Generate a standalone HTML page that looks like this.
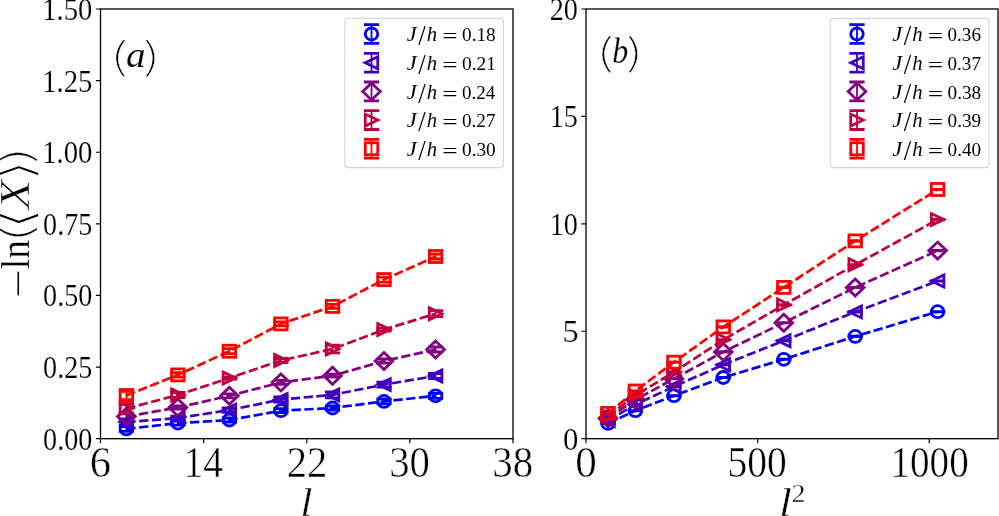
<!DOCTYPE html>
<html lang="en"><head><meta charset="utf-8"><title>-ln(X) versus l and l squared</title>
<style>html,body{margin:0;padding:0;background:#fff}svg{display:block}</style></head>
<body>
<svg width="999" height="516" viewBox="0 0 999 516">
<rect width="999" height="516" fill="#fff"/>
<clipPath id="cl"><rect x="100.5" y="9.0" width="412.5" height="429.7"/></clipPath>
<clipPath id="cr"><rect x="586.0" y="9.0" width="412.0" height="429.7"/></clipPath>
<g clip-path="url(#cl)">
<path d="M126.40 426.50V431.30" stroke="#0000ff" stroke-width="1.8" fill="none"/><path d="M118.80 426.50H134.00M118.80 431.30H134.00" stroke="#0000ff" stroke-width="2.8" fill="none"/>
<path d="M177.90 421.10V425.10" stroke="#0000ff" stroke-width="1.8" fill="none"/><path d="M170.30 421.10H185.50M170.30 425.10H185.50" stroke="#0000ff" stroke-width="2.8" fill="none"/>
<path d="M229.40 418.00V422.00" stroke="#0000ff" stroke-width="1.8" fill="none"/><path d="M221.80 418.00H237.00M221.80 422.00H237.00" stroke="#0000ff" stroke-width="2.8" fill="none"/>
<path d="M280.90 408.70V412.70" stroke="#0000ff" stroke-width="1.8" fill="none"/><path d="M273.30 408.70H288.50M273.30 412.70H288.50" stroke="#0000ff" stroke-width="2.8" fill="none"/>
<path d="M332.50 406.00V410.00" stroke="#0000ff" stroke-width="1.8" fill="none"/><path d="M324.90 406.00H340.10M324.90 410.00H340.10" stroke="#0000ff" stroke-width="2.8" fill="none"/>
<path d="M384.00 398.90V403.90" stroke="#0000ff" stroke-width="1.8" fill="none"/><path d="M376.40 398.90H391.60M376.40 403.90H391.60" stroke="#0000ff" stroke-width="2.8" fill="none"/>
<path d="M435.60 393.30V398.30" stroke="#0000ff" stroke-width="1.8" fill="none"/><path d="M428.00 393.30H443.20M428.00 398.30H443.20" stroke="#0000ff" stroke-width="2.8" fill="none"/>
<path d="M126.40 419.00V425.00" stroke="#4000bf" stroke-width="1.8" fill="none"/><path d="M118.80 419.00H134.00M118.80 425.00H134.00" stroke="#4000bf" stroke-width="2.8" fill="none"/>
<path d="M177.90 416.10V420.10" stroke="#4000bf" stroke-width="1.8" fill="none"/><path d="M170.30 416.10H185.50M170.30 420.10H185.50" stroke="#4000bf" stroke-width="2.8" fill="none"/>
<path d="M229.40 407.90V412.30" stroke="#4000bf" stroke-width="1.8" fill="none"/><path d="M221.80 407.90H237.00M221.80 412.30H237.00" stroke="#4000bf" stroke-width="2.8" fill="none"/>
<path d="M280.90 397.00V402.00" stroke="#4000bf" stroke-width="1.8" fill="none"/><path d="M273.30 397.00H288.50M273.30 402.00H288.50" stroke="#4000bf" stroke-width="2.8" fill="none"/>
<path d="M332.50 391.90V397.90" stroke="#4000bf" stroke-width="1.8" fill="none"/><path d="M324.90 391.90H340.10M324.90 397.90H340.10" stroke="#4000bf" stroke-width="2.8" fill="none"/>
<path d="M384.00 382.10V387.10" stroke="#4000bf" stroke-width="1.8" fill="none"/><path d="M376.40 382.10H391.60M376.40 387.10H391.60" stroke="#4000bf" stroke-width="2.8" fill="none"/>
<path d="M435.60 373.50V378.50" stroke="#4000bf" stroke-width="1.8" fill="none"/><path d="M428.00 373.50H443.20M428.00 378.50H443.20" stroke="#4000bf" stroke-width="2.8" fill="none"/>
<path d="M126.40 413.60V419.60" stroke="#800080" stroke-width="1.8" fill="none"/><path d="M118.80 413.60H134.00M118.80 419.60H134.00" stroke="#800080" stroke-width="2.8" fill="none"/>
<path d="M177.90 406.00V409.00" stroke="#800080" stroke-width="1.8" fill="none"/><path d="M170.30 406.00H185.50M170.30 409.00H185.50" stroke="#800080" stroke-width="2.8" fill="none"/>
<path d="M229.40 393.80V397.80" stroke="#800080" stroke-width="1.8" fill="none"/><path d="M221.80 393.80H237.00M221.80 397.80H237.00" stroke="#800080" stroke-width="2.8" fill="none"/>
<path d="M280.90 380.40V384.40" stroke="#800080" stroke-width="1.8" fill="none"/><path d="M273.30 380.40H288.50M273.30 384.40H288.50" stroke="#800080" stroke-width="2.8" fill="none"/>
<path d="M332.50 374.20V377.20" stroke="#800080" stroke-width="1.8" fill="none"/><path d="M324.90 374.20H340.10M324.90 377.20H340.10" stroke="#800080" stroke-width="2.8" fill="none"/>
<path d="M384.00 359.00V363.00" stroke="#800080" stroke-width="1.8" fill="none"/><path d="M376.40 359.00H391.60M376.40 363.00H391.60" stroke="#800080" stroke-width="2.8" fill="none"/>
<path d="M435.60 347.00V352.00" stroke="#800080" stroke-width="1.8" fill="none"/><path d="M428.00 347.00H443.20M428.00 352.00H443.20" stroke="#800080" stroke-width="2.8" fill="none"/>
<path d="M126.40 404.30V412.90" stroke="#bf0040" stroke-width="1.8" fill="none"/><path d="M118.80 404.30H134.00M118.80 412.90H134.00" stroke="#bf0040" stroke-width="2.8" fill="none"/>
<path d="M177.90 392.50V397.50" stroke="#bf0040" stroke-width="1.8" fill="none"/><path d="M170.30 392.50H185.50M170.30 397.50H185.50" stroke="#bf0040" stroke-width="2.8" fill="none"/>
<path d="M229.40 377.00V379.00" stroke="#bf0040" stroke-width="1.8" fill="none"/><path d="M221.80 377.00H237.00M221.80 379.00H237.00" stroke="#bf0040" stroke-width="2.8" fill="none"/>
<path d="M280.90 358.50V362.50" stroke="#bf0040" stroke-width="1.8" fill="none"/><path d="M273.30 358.50H288.50M273.30 362.50H288.50" stroke="#bf0040" stroke-width="2.8" fill="none"/>
<path d="M332.50 345.10V352.90" stroke="#bf0040" stroke-width="1.8" fill="none"/><path d="M324.90 345.10H340.10M324.90 352.90H340.10" stroke="#bf0040" stroke-width="2.8" fill="none"/>
<path d="M384.00 328.10V331.10" stroke="#bf0040" stroke-width="1.8" fill="none"/><path d="M376.40 328.10H391.60M376.40 331.10H391.60" stroke="#bf0040" stroke-width="2.8" fill="none"/>
<path d="M435.60 310.70V316.70" stroke="#bf0040" stroke-width="1.8" fill="none"/><path d="M428.00 310.70H443.20M428.00 316.70H443.20" stroke="#bf0040" stroke-width="2.8" fill="none"/>
<path d="M126.40 391.30V399.70" stroke="#ff0000" stroke-width="1.8" fill="none"/><path d="M118.80 391.30H134.00M118.80 399.70H134.00" stroke="#ff0000" stroke-width="2.8" fill="none"/>
<path d="M177.90 372.70V377.10" stroke="#ff0000" stroke-width="1.8" fill="none"/><path d="M170.30 372.70H185.50M170.30 377.10H185.50" stroke="#ff0000" stroke-width="2.8" fill="none"/>
<path d="M229.40 348.70V353.70" stroke="#ff0000" stroke-width="1.8" fill="none"/><path d="M221.80 348.70H237.00M221.80 353.70H237.00" stroke="#ff0000" stroke-width="2.8" fill="none"/>
<path d="M280.90 321.90V325.90" stroke="#ff0000" stroke-width="1.8" fill="none"/><path d="M273.30 321.90H288.50M273.30 325.90H288.50" stroke="#ff0000" stroke-width="2.8" fill="none"/>
<path d="M332.50 304.40V308.40" stroke="#ff0000" stroke-width="1.8" fill="none"/><path d="M324.90 304.40H340.10M324.90 308.40H340.10" stroke="#ff0000" stroke-width="2.8" fill="none"/>
<path d="M384.00 277.10V282.10" stroke="#ff0000" stroke-width="1.8" fill="none"/><path d="M376.40 277.10H391.60M376.40 282.10H391.60" stroke="#ff0000" stroke-width="2.8" fill="none"/>
<path d="M435.60 254.00V259.00" stroke="#ff0000" stroke-width="1.8" fill="none"/><path d="M428.00 254.00H443.20M428.00 259.00H443.20" stroke="#ff0000" stroke-width="2.8" fill="none"/>
<polyline points="126.40,428.90 177.90,423.10 229.40,420.00 280.90,410.70 332.50,408.00 384.00,401.40 435.60,395.80" fill="none" stroke="#0000ff" stroke-width="2.7" stroke-dasharray="9.3 3.5"/>
<ellipse cx="126.40" cy="428.90" rx="6.25" ry="6.00" fill="none" stroke="#0000ff" stroke-width="2.8" stroke-linejoin="miter"/>
<ellipse cx="177.90" cy="423.10" rx="6.25" ry="6.00" fill="none" stroke="#0000ff" stroke-width="2.8" stroke-linejoin="miter"/>
<ellipse cx="229.40" cy="420.00" rx="6.25" ry="6.00" fill="none" stroke="#0000ff" stroke-width="2.8" stroke-linejoin="miter"/>
<ellipse cx="280.90" cy="410.70" rx="6.25" ry="6.00" fill="none" stroke="#0000ff" stroke-width="2.8" stroke-linejoin="miter"/>
<ellipse cx="332.50" cy="408.00" rx="6.25" ry="6.00" fill="none" stroke="#0000ff" stroke-width="2.8" stroke-linejoin="miter"/>
<ellipse cx="384.00" cy="401.40" rx="6.25" ry="6.00" fill="none" stroke="#0000ff" stroke-width="2.8" stroke-linejoin="miter"/>
<ellipse cx="435.60" cy="395.80" rx="6.25" ry="6.00" fill="none" stroke="#0000ff" stroke-width="2.8" stroke-linejoin="miter"/>
<polyline points="126.40,422.00 177.90,418.10 229.40,410.10 280.90,399.50 332.50,394.90 384.00,384.60 435.60,376.00" fill="none" stroke="#4000bf" stroke-width="2.7" stroke-dasharray="9.3 3.5"/>
<path d="M120.15 422.00L132.65 416.00L132.65 428.00Z" fill="none" stroke="#4000bf" stroke-width="2.8" stroke-linejoin="miter"/>
<path d="M171.65 418.10L184.15 412.10L184.15 424.10Z" fill="none" stroke="#4000bf" stroke-width="2.8" stroke-linejoin="miter"/>
<path d="M223.15 410.10L235.65 404.10L235.65 416.10Z" fill="none" stroke="#4000bf" stroke-width="2.8" stroke-linejoin="miter"/>
<path d="M274.65 399.50L287.15 393.50L287.15 405.50Z" fill="none" stroke="#4000bf" stroke-width="2.8" stroke-linejoin="miter"/>
<path d="M326.25 394.90L338.75 388.90L338.75 400.90Z" fill="none" stroke="#4000bf" stroke-width="2.8" stroke-linejoin="miter"/>
<path d="M377.75 384.60L390.25 378.60L390.25 390.60Z" fill="none" stroke="#4000bf" stroke-width="2.8" stroke-linejoin="miter"/>
<path d="M429.35 376.00L441.85 370.00L441.85 382.00Z" fill="none" stroke="#4000bf" stroke-width="2.8" stroke-linejoin="miter"/>
<polyline points="126.40,416.60 177.90,407.50 229.40,395.80 280.90,382.40 332.50,375.70 384.00,361.00 435.60,349.50" fill="none" stroke="#800080" stroke-width="2.7" stroke-dasharray="9.3 3.5"/>
<path d="M126.40 408.11L135.24 416.60L126.40 425.09L117.56 416.60Z" fill="none" stroke="#800080" stroke-width="2.8" stroke-linejoin="miter"/>
<path d="M177.90 399.01L186.74 407.50L177.90 415.99L169.06 407.50Z" fill="none" stroke="#800080" stroke-width="2.8" stroke-linejoin="miter"/>
<path d="M229.40 387.31L238.24 395.80L229.40 404.29L220.56 395.80Z" fill="none" stroke="#800080" stroke-width="2.8" stroke-linejoin="miter"/>
<path d="M280.90 373.91L289.74 382.40L280.90 390.89L272.06 382.40Z" fill="none" stroke="#800080" stroke-width="2.8" stroke-linejoin="miter"/>
<path d="M332.50 367.21L341.34 375.70L332.50 384.19L323.66 375.70Z" fill="none" stroke="#800080" stroke-width="2.8" stroke-linejoin="miter"/>
<path d="M384.00 352.51L392.84 361.00L384.00 369.49L375.16 361.00Z" fill="none" stroke="#800080" stroke-width="2.8" stroke-linejoin="miter"/>
<path d="M435.60 341.01L444.44 349.50L435.60 357.99L426.76 349.50Z" fill="none" stroke="#800080" stroke-width="2.8" stroke-linejoin="miter"/>
<polyline points="126.40,408.60 177.90,395.00 229.40,378.00 280.90,360.50 332.50,349.00 384.00,329.60 435.60,313.70" fill="none" stroke="#bf0040" stroke-width="2.7" stroke-dasharray="9.3 3.5"/>
<path d="M132.65 408.60L120.15 402.60L120.15 414.60Z" fill="none" stroke="#bf0040" stroke-width="2.8" stroke-linejoin="miter"/>
<path d="M184.15 395.00L171.65 389.00L171.65 401.00Z" fill="none" stroke="#bf0040" stroke-width="2.8" stroke-linejoin="miter"/>
<path d="M235.65 378.00L223.15 372.00L223.15 384.00Z" fill="none" stroke="#bf0040" stroke-width="2.8" stroke-linejoin="miter"/>
<path d="M287.15 360.50L274.65 354.50L274.65 366.50Z" fill="none" stroke="#bf0040" stroke-width="2.8" stroke-linejoin="miter"/>
<path d="M338.75 349.00L326.25 343.00L326.25 355.00Z" fill="none" stroke="#bf0040" stroke-width="2.8" stroke-linejoin="miter"/>
<path d="M390.25 329.60L377.75 323.60L377.75 335.60Z" fill="none" stroke="#bf0040" stroke-width="2.8" stroke-linejoin="miter"/>
<path d="M441.85 313.70L429.35 307.70L429.35 319.70Z" fill="none" stroke="#bf0040" stroke-width="2.8" stroke-linejoin="miter"/>
<polyline points="126.40,395.50 177.90,374.90 229.40,351.20 280.90,323.90 332.50,306.40 384.00,279.60 435.60,256.50" fill="none" stroke="#ff0000" stroke-width="2.7" stroke-dasharray="9.3 3.5"/>
<rect x="120.15" y="389.50" width="12.5" height="12.00" fill="none" stroke="#ff0000" stroke-width="2.8" stroke-linejoin="miter"/>
<rect x="171.65" y="368.90" width="12.5" height="12.00" fill="none" stroke="#ff0000" stroke-width="2.8" stroke-linejoin="miter"/>
<rect x="223.15" y="345.20" width="12.5" height="12.00" fill="none" stroke="#ff0000" stroke-width="2.8" stroke-linejoin="miter"/>
<rect x="274.65" y="317.90" width="12.5" height="12.00" fill="none" stroke="#ff0000" stroke-width="2.8" stroke-linejoin="miter"/>
<rect x="326.25" y="300.40" width="12.5" height="12.00" fill="none" stroke="#ff0000" stroke-width="2.8" stroke-linejoin="miter"/>
<rect x="377.75" y="273.60" width="12.5" height="12.00" fill="none" stroke="#ff0000" stroke-width="2.8" stroke-linejoin="miter"/>
<rect x="429.35" y="250.50" width="12.5" height="12.00" fill="none" stroke="#ff0000" stroke-width="2.8" stroke-linejoin="miter"/>
</g>
<g clip-path="url(#cr)">
<path d="M608.00 423.25V423.55" stroke="#0000ff" stroke-width="1.8" fill="none"/><path d="M600.40 423.25H615.60M600.40 423.55H615.60" stroke="#0000ff" stroke-width="2.8" fill="none"/>
<path d="M635.40 410.55V410.85" stroke="#0000ff" stroke-width="1.8" fill="none"/><path d="M627.80 410.55H643.00M627.80 410.85H643.00" stroke="#0000ff" stroke-width="2.8" fill="none"/>
<path d="M673.90 395.55V395.85" stroke="#0000ff" stroke-width="1.8" fill="none"/><path d="M666.30 395.55H681.50M666.30 395.85H681.50" stroke="#0000ff" stroke-width="2.8" fill="none"/>
<path d="M723.30 377.35V377.65" stroke="#0000ff" stroke-width="1.8" fill="none"/><path d="M715.70 377.35H730.90M715.70 377.65H730.90" stroke="#0000ff" stroke-width="2.8" fill="none"/>
<path d="M783.80 359.15V359.45" stroke="#0000ff" stroke-width="1.8" fill="none"/><path d="M776.20 359.15H791.40M776.20 359.45H791.40" stroke="#0000ff" stroke-width="2.8" fill="none"/>
<path d="M855.20 336.25V336.55" stroke="#0000ff" stroke-width="1.8" fill="none"/><path d="M847.60 336.25H862.80M847.60 336.55H862.80" stroke="#0000ff" stroke-width="2.8" fill="none"/>
<path d="M937.60 311.55V311.85" stroke="#0000ff" stroke-width="1.8" fill="none"/><path d="M930.00 311.55H945.20M930.00 311.85H945.20" stroke="#0000ff" stroke-width="2.8" fill="none"/>
<path d="M608.00 420.35V420.65" stroke="#4000bf" stroke-width="1.8" fill="none"/><path d="M600.40 420.35H615.60M600.40 420.65H615.60" stroke="#4000bf" stroke-width="2.8" fill="none"/>
<path d="M635.40 404.35V404.65" stroke="#4000bf" stroke-width="1.8" fill="none"/><path d="M627.80 404.35H643.00M627.80 404.65H643.00" stroke="#4000bf" stroke-width="2.8" fill="none"/>
<path d="M673.90 386.45V386.75" stroke="#4000bf" stroke-width="1.8" fill="none"/><path d="M666.30 386.45H681.50M666.30 386.75H681.50" stroke="#4000bf" stroke-width="2.8" fill="none"/>
<path d="M723.30 364.55V364.85" stroke="#4000bf" stroke-width="1.8" fill="none"/><path d="M715.70 364.55H730.90M715.70 364.85H730.90" stroke="#4000bf" stroke-width="2.8" fill="none"/>
<path d="M783.80 340.55V340.85" stroke="#4000bf" stroke-width="1.8" fill="none"/><path d="M776.20 340.55H791.40M776.20 340.85H791.40" stroke="#4000bf" stroke-width="2.8" fill="none"/>
<path d="M855.20 311.75V312.05" stroke="#4000bf" stroke-width="1.8" fill="none"/><path d="M847.60 311.75H862.80M847.60 312.05H862.80" stroke="#4000bf" stroke-width="2.8" fill="none"/>
<path d="M937.60 280.85V281.15" stroke="#4000bf" stroke-width="1.8" fill="none"/><path d="M930.00 280.85H945.20M930.00 281.15H945.20" stroke="#4000bf" stroke-width="2.8" fill="none"/>
<path d="M608.00 418.15V418.45" stroke="#800080" stroke-width="1.8" fill="none"/><path d="M600.40 418.15H615.60M600.40 418.45H615.60" stroke="#800080" stroke-width="2.8" fill="none"/>
<path d="M635.40 399.55V399.85" stroke="#800080" stroke-width="1.8" fill="none"/><path d="M627.80 399.55H643.00M627.80 399.85H643.00" stroke="#800080" stroke-width="2.8" fill="none"/>
<path d="M673.90 378.65V378.95" stroke="#800080" stroke-width="1.8" fill="none"/><path d="M666.30 378.65H681.50M666.30 378.95H681.50" stroke="#800080" stroke-width="2.8" fill="none"/>
<path d="M723.30 351.75V352.05" stroke="#800080" stroke-width="1.8" fill="none"/><path d="M715.70 351.75H730.90M715.70 352.05H730.90" stroke="#800080" stroke-width="2.8" fill="none"/>
<path d="M783.80 322.55V322.85" stroke="#800080" stroke-width="1.8" fill="none"/><path d="M776.20 322.55H791.40M776.20 322.85H791.40" stroke="#800080" stroke-width="2.8" fill="none"/>
<path d="M855.20 287.35V287.65" stroke="#800080" stroke-width="1.8" fill="none"/><path d="M847.60 287.35H862.80M847.60 287.65H862.80" stroke="#800080" stroke-width="2.8" fill="none"/>
<path d="M937.60 250.45V250.75" stroke="#800080" stroke-width="1.8" fill="none"/><path d="M930.00 250.45H945.20M930.00 250.75H945.20" stroke="#800080" stroke-width="2.8" fill="none"/>
<path d="M608.00 415.85V416.15" stroke="#bf0040" stroke-width="1.8" fill="none"/><path d="M600.40 415.85H615.60M600.40 416.15H615.60" stroke="#bf0040" stroke-width="2.8" fill="none"/>
<path d="M635.40 395.35V395.65" stroke="#bf0040" stroke-width="1.8" fill="none"/><path d="M627.80 395.35H643.00M627.80 395.65H643.00" stroke="#bf0040" stroke-width="2.8" fill="none"/>
<path d="M673.90 371.85V372.15" stroke="#bf0040" stroke-width="1.8" fill="none"/><path d="M666.30 371.85H681.50M666.30 372.15H681.50" stroke="#bf0040" stroke-width="2.8" fill="none"/>
<path d="M723.30 339.65V339.95" stroke="#bf0040" stroke-width="1.8" fill="none"/><path d="M715.70 339.65H730.90M715.70 339.95H730.90" stroke="#bf0040" stroke-width="2.8" fill="none"/>
<path d="M783.80 304.75V305.05" stroke="#bf0040" stroke-width="1.8" fill="none"/><path d="M776.20 304.75H791.40M776.20 305.05H791.40" stroke="#bf0040" stroke-width="2.8" fill="none"/>
<path d="M855.20 264.65V264.95" stroke="#bf0040" stroke-width="1.8" fill="none"/><path d="M847.60 264.65H862.80M847.60 264.95H862.80" stroke="#bf0040" stroke-width="2.8" fill="none"/>
<path d="M937.60 219.45V219.75" stroke="#bf0040" stroke-width="1.8" fill="none"/><path d="M930.00 219.45H945.20M930.00 219.75H945.20" stroke="#bf0040" stroke-width="2.8" fill="none"/>
<path d="M608.00 413.25V413.55" stroke="#ff0000" stroke-width="1.8" fill="none"/><path d="M600.40 413.25H615.60M600.40 413.55H615.60" stroke="#ff0000" stroke-width="2.8" fill="none"/>
<path d="M635.40 390.85V391.15" stroke="#ff0000" stroke-width="1.8" fill="none"/><path d="M627.80 390.85H643.00M627.80 391.15H643.00" stroke="#ff0000" stroke-width="2.8" fill="none"/>
<path d="M673.90 362.05V362.35" stroke="#ff0000" stroke-width="1.8" fill="none"/><path d="M666.30 362.05H681.50M666.30 362.35H681.50" stroke="#ff0000" stroke-width="2.8" fill="none"/>
<path d="M723.30 326.75V327.05" stroke="#ff0000" stroke-width="1.8" fill="none"/><path d="M715.70 326.75H730.90M715.70 327.05H730.90" stroke="#ff0000" stroke-width="2.8" fill="none"/>
<path d="M783.80 287.25V287.55" stroke="#ff0000" stroke-width="1.8" fill="none"/><path d="M776.20 287.25H791.40M776.20 287.55H791.40" stroke="#ff0000" stroke-width="2.8" fill="none"/>
<path d="M855.20 240.75V241.05" stroke="#ff0000" stroke-width="1.8" fill="none"/><path d="M847.60 240.75H862.80M847.60 241.05H862.80" stroke="#ff0000" stroke-width="2.8" fill="none"/>
<path d="M937.60 189.35V189.65" stroke="#ff0000" stroke-width="1.8" fill="none"/><path d="M930.00 189.35H945.20M930.00 189.65H945.20" stroke="#ff0000" stroke-width="2.8" fill="none"/>
<polyline points="608.00,423.40 635.40,410.70 673.90,395.70 723.30,377.50 783.80,359.30 855.20,336.40 937.60,311.70" fill="none" stroke="#0000ff" stroke-width="2.7" stroke-dasharray="9.3 3.5"/>
<ellipse cx="608.00" cy="423.40" rx="6.25" ry="6.00" fill="none" stroke="#0000ff" stroke-width="2.8" stroke-linejoin="miter"/>
<ellipse cx="635.40" cy="410.70" rx="6.25" ry="6.00" fill="none" stroke="#0000ff" stroke-width="2.8" stroke-linejoin="miter"/>
<ellipse cx="673.90" cy="395.70" rx="6.25" ry="6.00" fill="none" stroke="#0000ff" stroke-width="2.8" stroke-linejoin="miter"/>
<ellipse cx="723.30" cy="377.50" rx="6.25" ry="6.00" fill="none" stroke="#0000ff" stroke-width="2.8" stroke-linejoin="miter"/>
<ellipse cx="783.80" cy="359.30" rx="6.25" ry="6.00" fill="none" stroke="#0000ff" stroke-width="2.8" stroke-linejoin="miter"/>
<ellipse cx="855.20" cy="336.40" rx="6.25" ry="6.00" fill="none" stroke="#0000ff" stroke-width="2.8" stroke-linejoin="miter"/>
<ellipse cx="937.60" cy="311.70" rx="6.25" ry="6.00" fill="none" stroke="#0000ff" stroke-width="2.8" stroke-linejoin="miter"/>
<polyline points="608.00,420.50 635.40,404.50 673.90,386.60 723.30,364.70 783.80,340.70 855.20,311.90 937.60,281.00" fill="none" stroke="#4000bf" stroke-width="2.7" stroke-dasharray="9.3 3.5"/>
<path d="M601.75 420.50L614.25 414.50L614.25 426.50Z" fill="none" stroke="#4000bf" stroke-width="2.8" stroke-linejoin="miter"/>
<path d="M629.15 404.50L641.65 398.50L641.65 410.50Z" fill="none" stroke="#4000bf" stroke-width="2.8" stroke-linejoin="miter"/>
<path d="M667.65 386.60L680.15 380.60L680.15 392.60Z" fill="none" stroke="#4000bf" stroke-width="2.8" stroke-linejoin="miter"/>
<path d="M717.05 364.70L729.55 358.70L729.55 370.70Z" fill="none" stroke="#4000bf" stroke-width="2.8" stroke-linejoin="miter"/>
<path d="M777.55 340.70L790.05 334.70L790.05 346.70Z" fill="none" stroke="#4000bf" stroke-width="2.8" stroke-linejoin="miter"/>
<path d="M848.95 311.90L861.45 305.90L861.45 317.90Z" fill="none" stroke="#4000bf" stroke-width="2.8" stroke-linejoin="miter"/>
<path d="M931.35 281.00L943.85 275.00L943.85 287.00Z" fill="none" stroke="#4000bf" stroke-width="2.8" stroke-linejoin="miter"/>
<polyline points="608.00,418.30 635.40,399.70 673.90,378.80 723.30,351.90 783.80,322.70 855.20,287.50 937.60,250.60" fill="none" stroke="#800080" stroke-width="2.7" stroke-dasharray="9.3 3.5"/>
<path d="M608.00 409.81L616.84 418.30L608.00 426.79L599.16 418.30Z" fill="none" stroke="#800080" stroke-width="2.8" stroke-linejoin="miter"/>
<path d="M635.40 391.21L644.24 399.70L635.40 408.19L626.56 399.70Z" fill="none" stroke="#800080" stroke-width="2.8" stroke-linejoin="miter"/>
<path d="M673.90 370.31L682.74 378.80L673.90 387.29L665.06 378.80Z" fill="none" stroke="#800080" stroke-width="2.8" stroke-linejoin="miter"/>
<path d="M723.30 343.41L732.14 351.90L723.30 360.39L714.46 351.90Z" fill="none" stroke="#800080" stroke-width="2.8" stroke-linejoin="miter"/>
<path d="M783.80 314.21L792.64 322.70L783.80 331.19L774.96 322.70Z" fill="none" stroke="#800080" stroke-width="2.8" stroke-linejoin="miter"/>
<path d="M855.20 279.01L864.04 287.50L855.20 295.99L846.36 287.50Z" fill="none" stroke="#800080" stroke-width="2.8" stroke-linejoin="miter"/>
<path d="M937.60 242.11L946.44 250.60L937.60 259.09L928.76 250.60Z" fill="none" stroke="#800080" stroke-width="2.8" stroke-linejoin="miter"/>
<polyline points="608.00,416.00 635.40,395.50 673.90,372.00 723.30,339.80 783.80,304.90 855.20,264.80 937.60,219.60" fill="none" stroke="#bf0040" stroke-width="2.7" stroke-dasharray="9.3 3.5"/>
<path d="M614.25 416.00L601.75 410.00L601.75 422.00Z" fill="none" stroke="#bf0040" stroke-width="2.8" stroke-linejoin="miter"/>
<path d="M641.65 395.50L629.15 389.50L629.15 401.50Z" fill="none" stroke="#bf0040" stroke-width="2.8" stroke-linejoin="miter"/>
<path d="M680.15 372.00L667.65 366.00L667.65 378.00Z" fill="none" stroke="#bf0040" stroke-width="2.8" stroke-linejoin="miter"/>
<path d="M729.55 339.80L717.05 333.80L717.05 345.80Z" fill="none" stroke="#bf0040" stroke-width="2.8" stroke-linejoin="miter"/>
<path d="M790.05 304.90L777.55 298.90L777.55 310.90Z" fill="none" stroke="#bf0040" stroke-width="2.8" stroke-linejoin="miter"/>
<path d="M861.45 264.80L848.95 258.80L848.95 270.80Z" fill="none" stroke="#bf0040" stroke-width="2.8" stroke-linejoin="miter"/>
<path d="M943.85 219.60L931.35 213.60L931.35 225.60Z" fill="none" stroke="#bf0040" stroke-width="2.8" stroke-linejoin="miter"/>
<polyline points="608.00,413.40 635.40,391.00 673.90,362.20 723.30,326.90 783.80,287.40 855.20,240.90 937.60,189.50" fill="none" stroke="#ff0000" stroke-width="2.7" stroke-dasharray="9.3 3.5"/>
<rect x="601.75" y="407.40" width="12.5" height="12.00" fill="none" stroke="#ff0000" stroke-width="2.8" stroke-linejoin="miter"/>
<rect x="629.15" y="385.00" width="12.5" height="12.00" fill="none" stroke="#ff0000" stroke-width="2.8" stroke-linejoin="miter"/>
<rect x="667.65" y="356.20" width="12.5" height="12.00" fill="none" stroke="#ff0000" stroke-width="2.8" stroke-linejoin="miter"/>
<rect x="717.05" y="320.90" width="12.5" height="12.00" fill="none" stroke="#ff0000" stroke-width="2.8" stroke-linejoin="miter"/>
<rect x="777.55" y="281.40" width="12.5" height="12.00" fill="none" stroke="#ff0000" stroke-width="2.8" stroke-linejoin="miter"/>
<rect x="848.95" y="234.90" width="12.5" height="12.00" fill="none" stroke="#ff0000" stroke-width="2.8" stroke-linejoin="miter"/>
<rect x="931.35" y="183.50" width="12.5" height="12.00" fill="none" stroke="#ff0000" stroke-width="2.8" stroke-linejoin="miter"/>
</g>
<rect x="100.5" y="9.0" width="412.5" height="429.7" fill="none" stroke="#000" stroke-width="1.3"/>
<path d="M100.50 438.7v4.6M203.62 438.7v4.6M306.75 438.7v4.6M409.88 438.7v4.6M513.00 438.7v4.6M100.5 438.70h-4.6M100.5 367.08h-4.6M100.5 295.47h-4.6M100.5 223.85h-4.6M100.5 152.23h-4.6M100.5 80.62h-4.6M100.5 9.00h-4.6" stroke="#000" stroke-width="1.2" fill="none"/>
<rect x="586.0" y="9.0" width="412.0" height="429.7" fill="none" stroke="#000" stroke-width="1.3"/>
<path d="M586.00 438.7v4.6M757.67 438.7v4.6M929.33 438.7v4.6M586.0 438.70h-4.6M586.0 331.27h-4.6M586.0 223.85h-4.6M586.0 116.43h-4.6M586.0 9.00h-4.6" stroke="#000" stroke-width="1.2" fill="none"/>
<rect x="344.80" y="18.4" width="158.7" height="149.2" rx="3" ry="3" fill="#fff" fill-opacity="0.8" stroke="#ccc" stroke-opacity="0.8" stroke-width="1.1"/>
<ellipse cx="371.50" cy="34.00" rx="6.25" ry="6.00" fill="none" stroke="#0000ff" stroke-width="2.8" stroke-linejoin="miter"/>
<path d="M371.50 24.60V43.40" stroke="#0000ff" stroke-width="1.8" fill="none"/><path d="M363.90 24.60H379.10M363.90 43.40H379.10" stroke="#0000ff" stroke-width="2.8" fill="none"/>
<path d="M365.25 62.70L377.75 56.70L377.75 68.70Z" fill="none" stroke="#4000bf" stroke-width="2.8" stroke-linejoin="miter"/>
<path d="M371.50 53.30V72.10" stroke="#4000bf" stroke-width="1.8" fill="none"/><path d="M363.90 53.30H379.10M363.90 72.10H379.10" stroke="#4000bf" stroke-width="2.8" fill="none"/>
<path d="M371.50 82.91L380.34 91.40L371.50 99.89L362.66 91.40Z" fill="none" stroke="#800080" stroke-width="2.8" stroke-linejoin="miter"/>
<path d="M371.50 82.00V100.80" stroke="#800080" stroke-width="1.8" fill="none"/><path d="M363.90 82.00H379.10M363.90 100.80H379.10" stroke="#800080" stroke-width="2.8" fill="none"/>
<path d="M377.75 120.10L365.25 114.10L365.25 126.10Z" fill="none" stroke="#bf0040" stroke-width="2.8" stroke-linejoin="miter"/>
<path d="M371.50 110.70V129.50" stroke="#bf0040" stroke-width="1.8" fill="none"/><path d="M363.90 110.70H379.10M363.90 129.50H379.10" stroke="#bf0040" stroke-width="2.8" fill="none"/>
<rect x="365.25" y="142.80" width="12.5" height="12.00" fill="none" stroke="#ff0000" stroke-width="2.8" stroke-linejoin="miter"/>
<path d="M371.50 139.40V158.20" stroke="#ff0000" stroke-width="1.8" fill="none"/><path d="M363.90 139.40H379.10M363.90 158.20H379.10" stroke="#ff0000" stroke-width="2.8" fill="none"/>
<rect x="830.30" y="18.4" width="158.7" height="149.2" rx="3" ry="3" fill="#fff" fill-opacity="0.8" stroke="#ccc" stroke-opacity="0.8" stroke-width="1.1"/>
<ellipse cx="857.00" cy="34.00" rx="6.25" ry="6.00" fill="none" stroke="#0000ff" stroke-width="2.8" stroke-linejoin="miter"/>
<path d="M857.00 24.60V43.40" stroke="#0000ff" stroke-width="1.8" fill="none"/><path d="M849.40 24.60H864.60M849.40 43.40H864.60" stroke="#0000ff" stroke-width="2.8" fill="none"/>
<path d="M850.75 62.70L863.25 56.70L863.25 68.70Z" fill="none" stroke="#4000bf" stroke-width="2.8" stroke-linejoin="miter"/>
<path d="M857.00 53.30V72.10" stroke="#4000bf" stroke-width="1.8" fill="none"/><path d="M849.40 53.30H864.60M849.40 72.10H864.60" stroke="#4000bf" stroke-width="2.8" fill="none"/>
<path d="M857.00 82.91L865.84 91.40L857.00 99.89L848.16 91.40Z" fill="none" stroke="#800080" stroke-width="2.8" stroke-linejoin="miter"/>
<path d="M857.00 82.00V100.80" stroke="#800080" stroke-width="1.8" fill="none"/><path d="M849.40 82.00H864.60M849.40 100.80H864.60" stroke="#800080" stroke-width="2.8" fill="none"/>
<path d="M863.25 120.10L850.75 114.10L850.75 126.10Z" fill="none" stroke="#bf0040" stroke-width="2.8" stroke-linejoin="miter"/>
<path d="M857.00 110.70V129.50" stroke="#bf0040" stroke-width="1.8" fill="none"/><path d="M849.40 110.70H864.60M849.40 129.50H864.60" stroke="#bf0040" stroke-width="2.8" fill="none"/>
<rect x="850.75" y="142.80" width="12.5" height="12.00" fill="none" stroke="#ff0000" stroke-width="2.8" stroke-linejoin="miter"/>
<path d="M857.00 139.40V158.20" stroke="#ff0000" stroke-width="1.8" fill="none"/><path d="M849.40 139.40H864.60M849.40 158.20H864.60" stroke="#ff0000" stroke-width="2.8" fill="none"/>
<g fill="#000" style="opacity:0.999">
<text transform="matrix(0.1409 0 0 0.1526 43.10 449.62)" font-size="200" font-family="Liberation Serif, serif" stroke="#fff" stroke-width="0.15" vector-effect="non-scaling-stroke">0.00</text>
<text transform="matrix(0.1409 0 0 0.1526 43.10 378.00)" font-size="200" font-family="Liberation Serif, serif" stroke="#fff" stroke-width="0.15" vector-effect="non-scaling-stroke">0.25</text>
<text transform="matrix(0.1409 0 0 0.1526 43.10 306.38)" font-size="200" font-family="Liberation Serif, serif" stroke="#fff" stroke-width="0.15" vector-effect="non-scaling-stroke">0.50</text>
<text transform="matrix(0.1409 0 0 0.1526 43.10 234.77)" font-size="200" font-family="Liberation Serif, serif" stroke="#fff" stroke-width="0.15" vector-effect="non-scaling-stroke">0.75</text>
<text transform="matrix(0.1437 0 0 0.1526 42.14 163.15)" font-size="200" font-family="Liberation Serif, serif" stroke="#fff" stroke-width="0.15" vector-effect="non-scaling-stroke">1.00</text>
<text transform="matrix(0.1437 0 0 0.1537 42.14 91.53)" font-size="200" font-family="Liberation Serif, serif" stroke="#fff" stroke-width="0.15" vector-effect="non-scaling-stroke">1.25</text>
<text transform="matrix(0.1437 0 0 0.1526 42.14 19.92)" font-size="200" font-family="Liberation Serif, serif" stroke="#fff" stroke-width="0.15" vector-effect="non-scaling-stroke">1.50</text>
<text transform="matrix(0.1542 0 0 0.1537 563.09 449.77)" font-size="200" font-family="Liberation Serif, serif" stroke="#fff" stroke-width="0.15" vector-effect="non-scaling-stroke">0</text>
<text transform="matrix(0.1619 0 0 0.1560 562.38 342.34)" font-size="200" font-family="Liberation Serif, serif" stroke="#fff" stroke-width="0.15" vector-effect="non-scaling-stroke">5</text>
<text transform="matrix(0.1411 0 0 0.1537 549.69 234.92)" font-size="200" font-family="Liberation Serif, serif" stroke="#fff" stroke-width="0.15" vector-effect="non-scaling-stroke">10</text>
<text transform="matrix(0.1411 0 0 0.1560 549.69 127.49)" font-size="200" font-family="Liberation Serif, serif" stroke="#fff" stroke-width="0.15" vector-effect="non-scaling-stroke">15</text>
<text transform="matrix(0.1413 0 0 0.1537 549.65 20.07)" font-size="200" font-family="Liberation Serif, serif" stroke="#fff" stroke-width="0.15" vector-effect="non-scaling-stroke">20</text>
<text transform="matrix(0.2129 0 0 0.2194 89.83 476.71)" font-size="200" font-family="Liberation Serif, serif" stroke="#fff" stroke-width="0.50" vector-effect="non-scaling-stroke">6</text>
<text transform="matrix(0.1978 0 0 0.2176 183.59 476.65)" font-size="200" font-family="Liberation Serif, serif" stroke="#fff" stroke-width="0.50" vector-effect="non-scaling-stroke">14</text>
<text transform="matrix(0.2033 0 0 0.2182 286.72 476.55)" font-size="200" font-family="Liberation Serif, serif" stroke="#fff" stroke-width="0.50" vector-effect="non-scaling-stroke">22</text>
<text transform="matrix(0.2038 0 0 0.2178 389.21 476.71)" font-size="200" font-family="Liberation Serif, serif" stroke="#fff" stroke-width="0.50" vector-effect="non-scaling-stroke">30</text>
<text transform="matrix(0.2049 0 0 0.2178 492.30 476.71)" font-size="200" font-family="Liberation Serif, serif" stroke="#fff" stroke-width="0.50" vector-effect="non-scaling-stroke">38</text>
<text transform="matrix(0.2155 0 0 0.2178 575.23 476.71)" font-size="200" font-family="Liberation Serif, serif" stroke="#fff" stroke-width="0.50" vector-effect="non-scaling-stroke">0</text>
<text transform="matrix(0.1975 0 0 0.2178 727.48 476.71)" font-size="200" font-family="Liberation Serif, serif" stroke="#fff" stroke-width="0.50" vector-effect="non-scaling-stroke">500</text>
<text transform="matrix(0.1955 0 0 0.2178 890.53 476.71)" font-size="200" font-family="Liberation Serif, serif" stroke="#fff" stroke-width="0.50" vector-effect="non-scaling-stroke">1000</text>
<text transform="matrix(0.2200 0 0 0.2000 300.33 516.25)" font-size="200" font-family="Liberation Serif, serif" font-style="italic" stroke="#fff" stroke-width="0.50" vector-effect="non-scaling-stroke">l</text>
<text transform="matrix(0.2325 0 0 0.2000 778.89 516.25)" font-size="200" font-family="Liberation Serif, serif" font-style="italic" stroke="#fff" stroke-width="0.50" vector-effect="non-scaling-stroke">l</text>
<text transform="matrix(0.1394 0 0 0.1284 791.57 502.18)" font-size="200" font-family="Liberation Serif, serif" stroke="#fff" stroke-width="0.35" vector-effect="non-scaling-stroke">2</text>
<text transform="matrix(0.2657 0 0 0.2084 109.90 70.53)" font-size="200" font-family="DejaVu Sans, sans-serif" font-weight="200" stroke="#fff" stroke-width="0.50" vector-effect="non-scaling-stroke">(</text>
<text transform="matrix(0.1959 0 0 0.1839 126.05 67.01)" font-size="200" font-family="Liberation Serif, serif" font-style="italic" stroke="#fff" stroke-width="0.15" vector-effect="non-scaling-stroke">a</text>
<text transform="matrix(0.2629 0 0 0.2084 139.67 70.53)" font-size="200" font-family="DejaVu Sans, sans-serif" font-weight="200" stroke="#fff" stroke-width="0.50" vector-effect="non-scaling-stroke">)</text>
<text transform="matrix(0.2629 0 0 0.2067 596.27 66.77)" font-size="200" font-family="DejaVu Sans, sans-serif" font-weight="200" stroke="#fff" stroke-width="0.50" vector-effect="non-scaling-stroke">(</text>
<text transform="matrix(0.1599 0 0 0.1818 612.35 63.11)" font-size="200" font-family="Liberation Serif, serif" font-style="italic" stroke="#fff" stroke-width="0.15" vector-effect="non-scaling-stroke">b</text>
<text transform="matrix(0.2600 0 0 0.2067 622.83 66.77)" font-size="200" font-family="DejaVu Sans, sans-serif" font-weight="200" stroke="#fff" stroke-width="0.50" vector-effect="non-scaling-stroke">)</text>
<text transform="matrix(0.1118 0 0 0.1023 406.86 41.10)" font-size="200" font-family="Liberation Serif, serif" font-style="italic">J</text>
<text transform="matrix(0.1345 0 0 0.1436 418.20 45.11)" font-size="200" font-family="Liberation Serif, serif">/</text>
<text transform="matrix(0.1035 0 0 0.1022 426.78 41.30)" font-size="200" font-family="Liberation Serif, serif" font-style="italic">h</text>
<text transform="matrix(0.1366 0 0 0.1080 442.13 43.33)" font-size="200" font-family="Liberation Serif, serif">=</text>
<text transform="matrix(0.0961 0 0 0.0963 462.03 41.11)" font-size="200" font-family="Liberation Serif, serif">0.18</text>
<text transform="matrix(0.1118 0 0 0.1023 406.86 69.80)" font-size="200" font-family="Liberation Serif, serif" font-style="italic">J</text>
<text transform="matrix(0.1345 0 0 0.1436 418.20 73.81)" font-size="200" font-family="Liberation Serif, serif">/</text>
<text transform="matrix(0.1035 0 0 0.1022 426.78 70.00)" font-size="200" font-family="Liberation Serif, serif" font-style="italic">h</text>
<text transform="matrix(0.1366 0 0 0.1080 442.13 72.03)" font-size="200" font-family="Liberation Serif, serif">=</text>
<text transform="matrix(0.0973 0 0 0.0963 462.02 69.81)" font-size="200" font-family="Liberation Serif, serif">0.21</text>
<text transform="matrix(0.1118 0 0 0.1023 406.86 98.50)" font-size="200" font-family="Liberation Serif, serif" font-style="italic">J</text>
<text transform="matrix(0.1345 0 0 0.1436 418.20 102.51)" font-size="200" font-family="Liberation Serif, serif">/</text>
<text transform="matrix(0.1035 0 0 0.1022 426.78 98.70)" font-size="200" font-family="Liberation Serif, serif" font-style="italic">h</text>
<text transform="matrix(0.1366 0 0 0.1080 442.13 100.73)" font-size="200" font-family="Liberation Serif, serif">=</text>
<text transform="matrix(0.0947 0 0 0.0963 462.04 98.51)" font-size="200" font-family="Liberation Serif, serif">0.24</text>
<text transform="matrix(0.1118 0 0 0.1023 406.86 127.20)" font-size="200" font-family="Liberation Serif, serif" font-style="italic">J</text>
<text transform="matrix(0.1345 0 0 0.1436 418.20 131.21)" font-size="200" font-family="Liberation Serif, serif">/</text>
<text transform="matrix(0.1035 0 0 0.1022 426.78 127.40)" font-size="200" font-family="Liberation Serif, serif" font-style="italic">h</text>
<text transform="matrix(0.1366 0 0 0.1080 442.13 129.43)" font-size="200" font-family="Liberation Serif, serif">=</text>
<text transform="matrix(0.0955 0 0 0.0963 462.04 127.21)" font-size="200" font-family="Liberation Serif, serif">0.27</text>
<text transform="matrix(0.1118 0 0 0.1023 406.86 155.90)" font-size="200" font-family="Liberation Serif, serif" font-style="italic">J</text>
<text transform="matrix(0.1345 0 0 0.1436 418.20 159.91)" font-size="200" font-family="Liberation Serif, serif">/</text>
<text transform="matrix(0.1035 0 0 0.1022 426.78 156.10)" font-size="200" font-family="Liberation Serif, serif" font-style="italic">h</text>
<text transform="matrix(0.1366 0 0 0.1080 442.13 158.13)" font-size="200" font-family="Liberation Serif, serif">=</text>
<text transform="matrix(0.0961 0 0 0.0963 462.03 155.91)" font-size="200" font-family="Liberation Serif, serif">0.30</text>
<text transform="matrix(0.1118 0 0 0.1023 892.36 41.10)" font-size="200" font-family="Liberation Serif, serif" font-style="italic">J</text>
<text transform="matrix(0.1345 0 0 0.1436 903.70 45.11)" font-size="200" font-family="Liberation Serif, serif">/</text>
<text transform="matrix(0.1035 0 0 0.1022 912.28 41.30)" font-size="200" font-family="Liberation Serif, serif" font-style="italic">h</text>
<text transform="matrix(0.1366 0 0 0.1080 927.63 43.33)" font-size="200" font-family="Liberation Serif, serif">=</text>
<text transform="matrix(0.0955 0 0 0.0963 947.54 41.11)" font-size="200" font-family="Liberation Serif, serif">0.36</text>
<text transform="matrix(0.1118 0 0 0.1023 892.36 69.80)" font-size="200" font-family="Liberation Serif, serif" font-style="italic">J</text>
<text transform="matrix(0.1345 0 0 0.1436 903.70 73.81)" font-size="200" font-family="Liberation Serif, serif">/</text>
<text transform="matrix(0.1035 0 0 0.1022 912.28 70.00)" font-size="200" font-family="Liberation Serif, serif" font-style="italic">h</text>
<text transform="matrix(0.1366 0 0 0.1080 927.63 72.03)" font-size="200" font-family="Liberation Serif, serif">=</text>
<text transform="matrix(0.0955 0 0 0.0963 947.54 69.81)" font-size="200" font-family="Liberation Serif, serif">0.37</text>
<text transform="matrix(0.1118 0 0 0.1023 892.36 98.50)" font-size="200" font-family="Liberation Serif, serif" font-style="italic">J</text>
<text transform="matrix(0.1345 0 0 0.1436 903.70 102.51)" font-size="200" font-family="Liberation Serif, serif">/</text>
<text transform="matrix(0.1035 0 0 0.1022 912.28 98.70)" font-size="200" font-family="Liberation Serif, serif" font-style="italic">h</text>
<text transform="matrix(0.1366 0 0 0.1080 927.63 100.73)" font-size="200" font-family="Liberation Serif, serif">=</text>
<text transform="matrix(0.0961 0 0 0.0963 947.53 98.51)" font-size="200" font-family="Liberation Serif, serif">0.38</text>
<text transform="matrix(0.1118 0 0 0.1023 892.36 127.20)" font-size="200" font-family="Liberation Serif, serif" font-style="italic">J</text>
<text transform="matrix(0.1345 0 0 0.1436 903.70 131.21)" font-size="200" font-family="Liberation Serif, serif">/</text>
<text transform="matrix(0.1035 0 0 0.1022 912.28 127.40)" font-size="200" font-family="Liberation Serif, serif" font-style="italic">h</text>
<text transform="matrix(0.1366 0 0 0.1080 927.63 129.43)" font-size="200" font-family="Liberation Serif, serif">=</text>
<text transform="matrix(0.0961 0 0 0.0963 947.53 127.21)" font-size="200" font-family="Liberation Serif, serif">0.39</text>
<text transform="matrix(0.1118 0 0 0.1023 892.36 155.90)" font-size="200" font-family="Liberation Serif, serif" font-style="italic">J</text>
<text transform="matrix(0.1345 0 0 0.1436 903.70 159.91)" font-size="200" font-family="Liberation Serif, serif">/</text>
<text transform="matrix(0.1035 0 0 0.1022 912.28 156.10)" font-size="200" font-family="Liberation Serif, serif" font-style="italic">h</text>
<text transform="matrix(0.1366 0 0 0.1080 927.63 158.13)" font-size="200" font-family="Liberation Serif, serif">=</text>
<text transform="matrix(0.0961 0 0 0.0963 947.53 155.91)" font-size="200" font-family="Liberation Serif, serif">0.40</text>
<text transform="translate(32.38 166.49) rotate(-90) scale(0.2429 0.2140)" font-size="200" font-family="DejaVu Sans, sans-serif" font-weight="200" stroke="#fff" stroke-width="0.30" vector-effect="non-scaling-stroke">)</text>
<text transform="translate(33.09 180.56) rotate(-90) scale(0.2568 0.2253)" font-size="200" font-family="DejaVu Sans, sans-serif" stroke="#fff" stroke-width="1.70" vector-effect="non-scaling-stroke">&#x27E9;</text>
<text transform="translate(29.35 209.27) rotate(-90) scale(0.2400 0.2131)" font-size="200" font-family="Liberation Serif, serif" font-style="italic" stroke="#fff" stroke-width="0.50" vector-effect="non-scaling-stroke">X</text>
<text transform="translate(33.09 228.75) rotate(-90) scale(0.2614 0.2253)" font-size="200" font-family="DejaVu Sans, sans-serif" stroke="#fff" stroke-width="1.70" vector-effect="non-scaling-stroke">&#x27E8;</text>
<text transform="translate(32.38 242.02) rotate(-90) scale(0.2486 0.2140)" font-size="200" font-family="DejaVu Sans, sans-serif" font-weight="200" stroke="#fff" stroke-width="0.30" vector-effect="non-scaling-stroke">(</text>
<text transform="translate(29.20 269.25) rotate(-90) scale(0.1872 0.1957)" font-size="200" font-family="Liberation Serif, serif" stroke="#fff" stroke-width="0.20" vector-effect="non-scaling-stroke">ln</text>
<text transform="translate(29.36 298.15) rotate(-90) scale(0.2548 0.1600)" font-size="200" font-family="Liberation Serif, serif">&#x2212;</text>
</g>
</svg>
</body></html>
